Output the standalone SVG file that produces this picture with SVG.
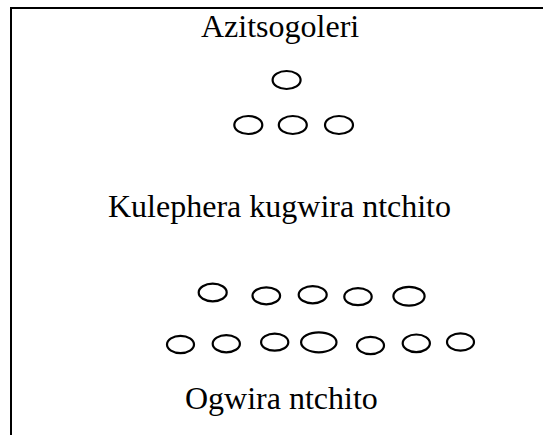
<svg xmlns="http://www.w3.org/2000/svg" width="543" height="435" viewBox="0 0 543 435">
<style>
.t{font-family:"Liberation Serif","Times New Roman",serif;font-size:32px;fill:#000}
.o{fill:none;stroke:#000;stroke-width:2.2}
.b{fill:none;stroke:#000;stroke-width:2}
</style>
<rect width="543" height="435" fill="#fff"/>
<g id="frame"><path class="b" d="M11 435V8H543"/></g>
<g id="title"><text class="t" x="201" y="36.5">Azitsogoleri</text></g>
<g id="leaders">
<ellipse class="o" cx="286.6" cy="80" rx="14" ry="9"/>
<ellipse class="o" cx="248.3" cy="125" rx="14" ry="9"/>
<ellipse class="o" cx="292.8" cy="125" rx="14" ry="9"/>
<ellipse class="o" cx="339" cy="125" rx="14" ry="9"/>
</g>
<g id="label-fail"><text class="t" x="108" y="217">Kulephera kugwira ntchito</text></g>
<g id="workers">
<ellipse class="o" cx="212.7" cy="292.5" rx="14" ry="8.8"/>
<ellipse class="o" cx="266.3" cy="295.8" rx="13.8" ry="8.5"/>
<ellipse class="o" cx="312.7" cy="294.7" rx="14" ry="8.6"/>
<ellipse class="o" cx="358" cy="296.7" rx="13.7" ry="8.5"/>
<ellipse class="o" cx="409" cy="296.2" rx="15.6" ry="9.4"/>
<ellipse class="o" cx="180.5" cy="344.5" rx="13.5" ry="8.6"/>
<ellipse class="o" cx="226.3" cy="343.7" rx="13.6" ry="8.6"/>
<ellipse class="o" cx="274.7" cy="342.2" rx="13.6" ry="8.5"/>
<ellipse class="o" cx="318.8" cy="342.3" rx="17.7" ry="10"/>
<ellipse class="o" cx="370.5" cy="345.5" rx="13.5" ry="8.6"/>
<ellipse class="o" cx="416.3" cy="343.3" rx="13.6" ry="8.8"/>
<ellipse class="o" cx="460.5" cy="342" rx="13.5" ry="8.6"/>
</g>
<g id="label-work"><text class="t" x="185" y="409">Ogwira ntchito</text></g>
<g id="connectors"/>
</svg>
